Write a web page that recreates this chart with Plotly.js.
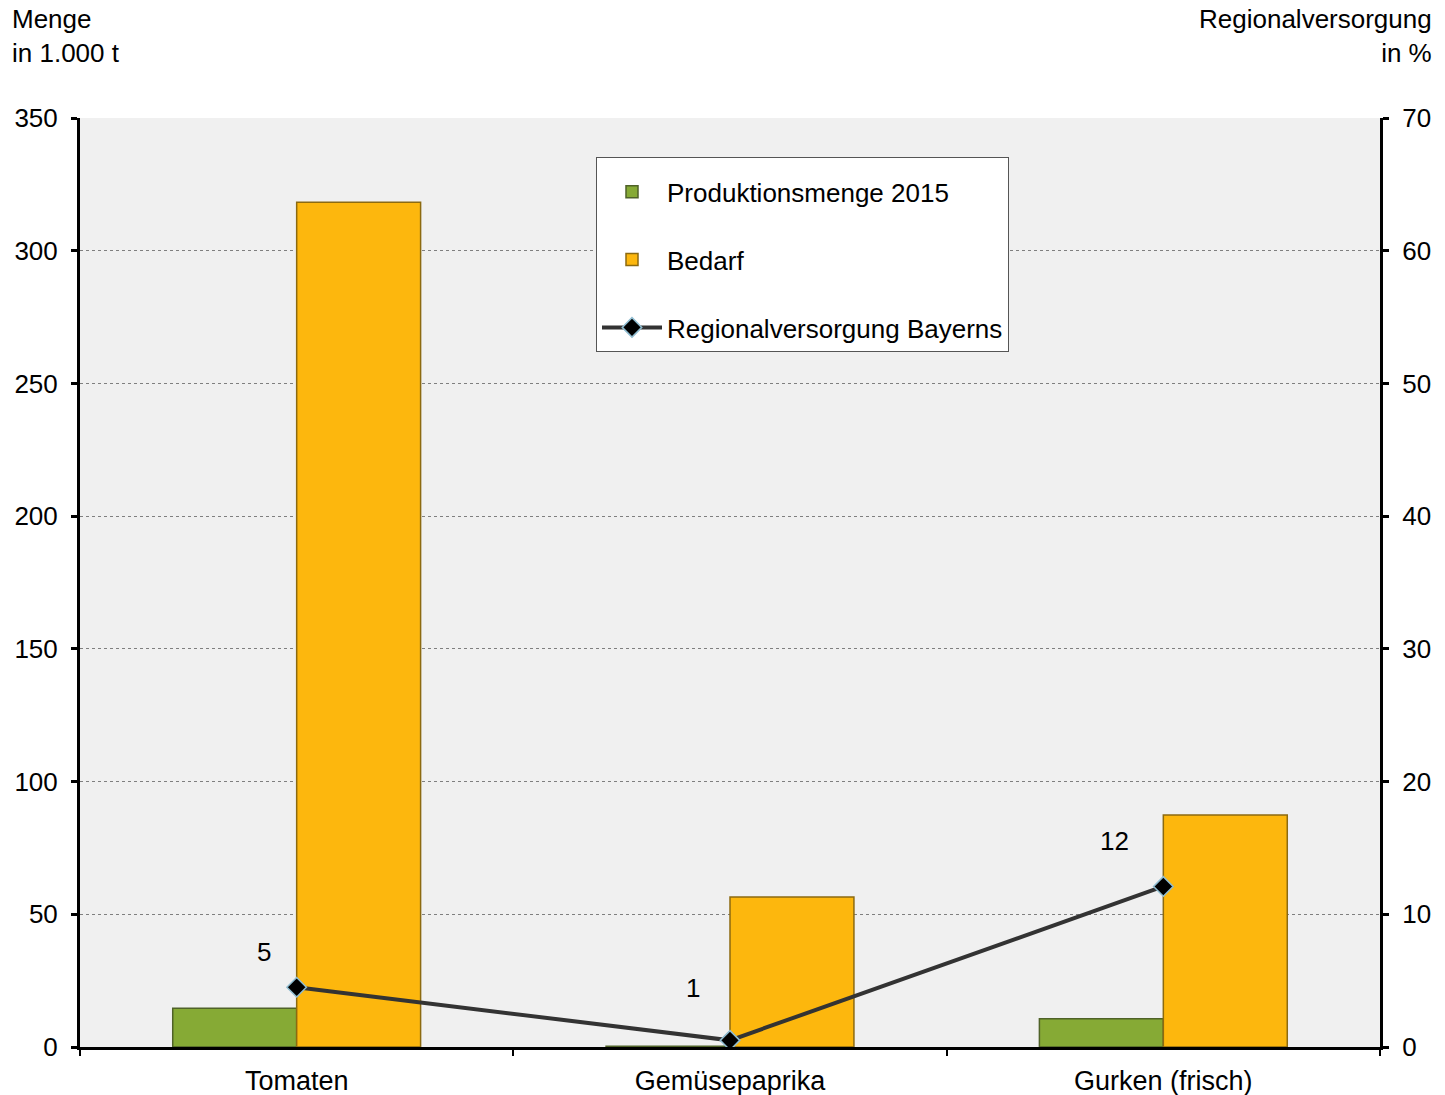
<!DOCTYPE html>
<html>
<head>
<meta charset="utf-8">
<script src="https://cdn.plot.ly/plotly-3.0.1.min.js"></script>
<style>html,body{margin:0;padding:0;background:#fff;}#chart{width:1445px;height:1095px;}</style>
</head>
<body>
<div id="chart"></div>
<script>
const categories = ["Tomaten", "Gemüsepaprika", "Gurken (frisch)"];
const produktion = [14.6, 0.3, 10.6];
const bedarf = [318.3, 56.5, 87.4];
const regionalversorgung = [4.5, 0.5, 12.1];
const regionalLabels = ["5", "1", "12"];
const seriesNames = ["Produktionsmenge 2015", "Bedarf", "Regionalversorgung Bayerns"];
const leftTitle = "Menge<br>in 1.000 t";
const rightTitle = "Regionalversorgung<br>in %";

const FONT = "Liberation Sans, Arial, sans-serif";
const FS = 26;

const traces = [
  {
    type: "bar", name: seriesNames[0], x: categories, y: produktion,
    marker: {color: "#86AA35", line: {color: "#4F6228", width: 1.5}},
    legendgroup: "a", yaxis: "y"
  },
  {
    type: "bar", name: seriesNames[1], x: categories, y: bedarf,
    marker: {color: "#FDB70D", line: {color: "#8C6A10", width: 1.5}},
    legendgroup: "b", yaxis: "y"
  },
  {
    type: "scatter", mode: "lines+markers", name: seriesNames[2], x: categories, y: regionalversorgung,
    yaxis: "y2", legendgroup: "c",
    line: {color: "#333333", width: 4},
    marker: {symbol: "diamond", size: 15, color: "#000000", line: {color: "#8FBCD0", width: 1.5}}
  }
];

const labelShift = [[-33, 35], [-37, 52], [-49, 45]];
const annotations = regionalLabels.map((t, i) => ({
  x: categories[i], y: regionalversorgung[i], xref: "x", yref: "y2",
  text: t, showarrow: false, xanchor: "center", yanchor: "middle",
  xshift: labelShift[i][0], yshift: labelShift[i][1],
  font: {family: FONT, size: FS, color: "#000"}
}));
annotations.push({
  xref: "paper", yref: "paper", x: -80/1300, y: 1 + 118/929, xanchor: "left", yanchor: "top",
  text: leftTitle, showarrow: false, align: "left", xshift: 10, yshift: -2,
  font: {family: FONT, size: FS, color: "#000"}
});
annotations.push({
  xref: "paper", yref: "paper", x: 1 + 65/1300, y: 1 + 118/929, xanchor: "right", yanchor: "top",
  text: rightTitle, showarrow: false, align: "right", xshift: -11, yshift: -2,
  font: {family: FONT, size: FS, color: "#000"}
});

const layout = {
  width: 1445, height: 1095,
  margin: {l: 80, r: 65, t: 118, b: 48, pad: 0},
  paper_bgcolor: "#ffffff", plot_bgcolor: "#f0f0f0",
  font: {family: FONT, size: FS, color: "#000"},
  barmode: "group", bargap: 0.428, bargroupgap: 0,
  showlegend: true,
  legend: {
    x: (596-80)/1300, y: (1047-157)/929, xanchor: "left", yanchor: "top",
    bgcolor: "#ffffff", bordercolor: "#555555", borderwidth: 1,
    font: {family: FONT, size: FS, color: "#000"},
    title: {text: " ", font: {size: 8}},
    tracegroupgap: 31, traceorder: "grouped", itemwidth: 60
  },
  xaxis: {
    type: "category", tickson: "boundaries", ticks: "outside", ticklen: 6, tickwidth: 2, tickcolor: "#000",
    showline: true, linecolor: "#000", linewidth: 3, showgrid: false, zeroline: false,
    ticklabelstandoff: 8,
    tickfont: {family: FONT, size: 27, color: "#000"}
  },
  yaxis: {
    range: [0, 350], dtick: 50, ticks: "outside", ticklen: 6, tickwidth: 3, tickcolor: "#000",
    showline: true, linecolor: "#000", linewidth: 3, zeroline: false,
    showgrid: true, gridcolor: "#7f7f7f", gridwidth: 1, griddash: "dot",
    ticklabelstandoff: 8,
    tickfont: {family: FONT, size: FS, color: "#000"}
  },
  yaxis2: {
    range: [0, 70], dtick: 10, overlaying: "y", side: "right", anchor: "x",
    ticks: "outside", ticklen: 6, tickwidth: 3, tickcolor: "#000",
    showline: true, linecolor: "#000", linewidth: 3, showgrid: false, zeroline: false,
    ticklabelstandoff: 8,
    tickfont: {family: FONT, size: FS, color: "#000"}
  },
  annotations: annotations
};

Plotly.newPlot("chart", traces, layout, {displayModeBar: false, staticPlot: true});
</script>
</body>
</html>
